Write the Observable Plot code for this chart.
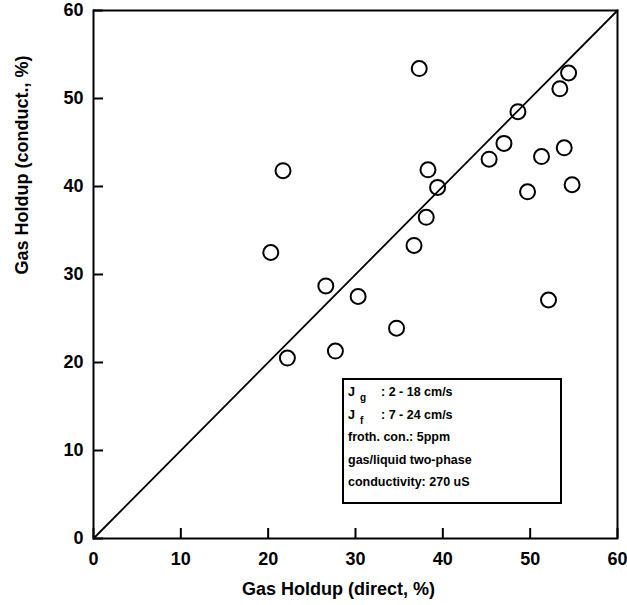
<!DOCTYPE html>
<html>
<head>
<meta charset="utf-8">
<script src="https://cdn.jsdelivr.net/npm/d3@7"></script>
<script src="https://cdn.jsdelivr.net/npm/@observablehq/plot@0.6"></script>
<style>
  html, body { margin: 0; padding: 0; background: #fff; }
  #wrap { position: relative; width: 627px; height: 605px; }
  #legend {
    position: absolute; left: 342px; top: 378px; width: 216px; height: 122px;
    border: 2px solid #000; background: #fff;
    font-family: "Liberation Sans", Arial, sans-serif; font-size: 12.5px; font-weight: bold; color: #000;
  }
  #legend .ln { position: absolute; left: 4px; white-space: nowrap; line-height: 1; }
  #legend .lab { display: inline-block; width: 33px; }
  #legend sub { font-size: 10px; vertical-align: -5px; margin-left: 5px; }
</style>
</head>
<body>
<div id="wrap"></div>
<script>
const gasDirect  = [37.3, 54.4, 53.4, 48.6, 47.0, 45.3, 51.3, 53.9, 21.7, 38.3, 39.4, 54.8, 49.7, 38.1, 36.7, 20.3, 26.6, 30.3, 52.1, 34.7, 27.7, 22.2];
const gasConduct = [53.4, 52.9, 51.1, 48.5, 44.9, 43.1, 43.4, 44.4, 41.8, 41.9, 39.9, 40.2, 39.4, 36.5, 33.3, 32.5, 28.7, 27.5, 27.1, 23.9, 21.3, 20.5];
const xTicks = [0, 10, 20, 30, 40, 50, 60];
const yTicks = [0, 10, 20, 30, 40, 50, 60];
const parityX = [0, 60];
const parityY = [0, 60];
const xTitle = "Gas Holdup (direct, %)";
const yTitle = "Gas Holdup (conduct., %)";
const legendLines = [
  {sym: "J", sub: "g", text: ": 2 - 18 cm/s"},
  {sym: "J", sub: "f", text: ": 7 - 24 cm/s"},
  {sym: null, text: "froth. con.: 5ppm"},
  {sym: null, text: "gas/liquid two-phase"},
  {sym: null, text: "conductivity: 270 uS"}
];

const points = gasDirect.map((x, i) => ({x, y: gasConduct[i]}));
const parity = parityX.map((x, i) => ({x, y: parityY[i]}));

const W = 627, H = 605, mL = 93, mR = 10, mT = 10, mB = 67;
const innerW = W - mL - mR, innerH = H - mT - mB;

const chart = Plot.plot({
  width: W, height: H,
  marginLeft: mL, marginRight: mR, marginTop: mT, marginBottom: mB,
  style: {fontFamily: "'Liberation Sans', Arial, sans-serif", fontSize: "18px", fontWeight: "bold", color: "#000", background: "#fff"},
  x: {domain: [0, 60]},
  y: {domain: [0, 60]},
  marks: [
    Plot.frame({stroke: "#000", strokeWidth: 2}),
    Plot.axisX(xTicks, {tickSize: 0, tickPadding: 14, label: null, fontSize: 18}),
    Plot.axisY(yTicks, {tickSize: 0, tickPadding: 10, label: null, fontSize: 18}),
    Plot.tickX(xTicks, {x: d => d, insetTop: innerH - 10, stroke: "#000", strokeWidth: 2}),
    Plot.tickY(yTicks, {y: d => d, insetRight: innerW - 10, stroke: "#000", strokeWidth: 2}),
    Plot.line(parity, {x: "x", y: "y", stroke: "#000", strokeWidth: 1.8}),
    Plot.dot(points, {x: "x", y: "y", r: 7.5, stroke: "#000", strokeWidth: 2, fill: "none"}),
    Plot.text([xTitle], {frameAnchor: "bottom", text: d => d, dy: 44, dx: -17, fontSize: 18, fontWeight: "bold", fill: "#000", lineAnchor: "top"}),
    Plot.text([yTitle], {frameAnchor: "left", text: d => d, dx: -71, rotate: -90, fontSize: 18, fontWeight: "bold", fill: "#000"})
  ]
});

const wrap = document.getElementById("wrap");
wrap.appendChild(chart);

const legend = document.createElement("div");
legend.id = "legend";
legendLines.forEach((l, i) => {
  const div = document.createElement("div");
  div.className = "ln";
  div.style.top = (6 + i * 22.5) + "px";
  if (l.sym) {
    const lab = document.createElement("span");
    lab.className = "lab";
    lab.innerHTML = l.sym + "<sub>" + l.sub + "</sub>";
    div.appendChild(lab);
  }
  div.appendChild(document.createTextNode(l.text));
  legend.appendChild(div);
});
wrap.appendChild(legend);
</script>
</body>
</html>
